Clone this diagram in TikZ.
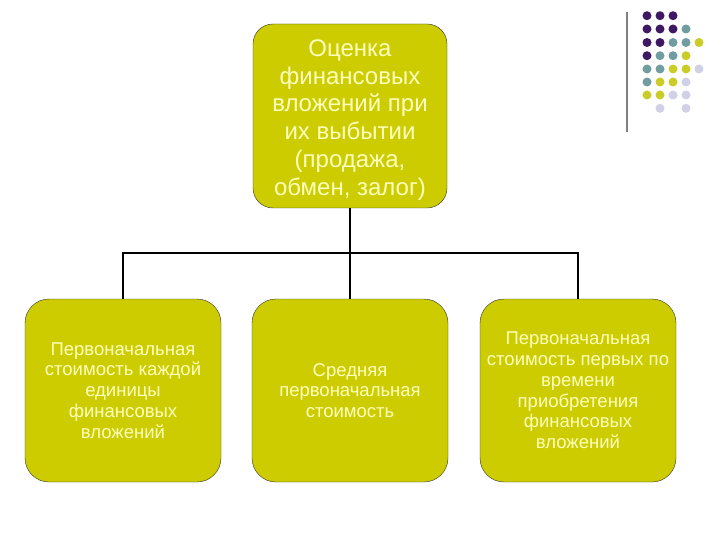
\documentclass[tikz,border=0pt]{standalone}
\usepackage{fontspec}
\setmainfont{Liberation Sans}
\usepackage{tikz}
\usetikzlibrary{calc}
\usepackage{xcolor}

\definecolor{boxfill}{RGB}{204,204,0}
\definecolor{boxtext}{RGB}{255,255,190}
\definecolor{dotP}{RGB}{62,24,98}
\definecolor{dotT}{RGB}{112,158,160}
\definecolor{dotY}{RGB}{204,204,40}
\definecolor{dotL}{RGB}{208,208,230}

\begin{document}
\begin{tikzpicture}[
    x=1pt, y=-1pt,
    topbox/.style={draw=black!80, fill=boxfill, rounded corners=20pt, minimum width=194pt, minimum height=184pt},
    toptext/.style={align=center, text=boxtext, font=\fontsize{24}{27.8}\selectfont},
    subbox/.style={draw=black!80, fill=boxfill, rounded corners=24pt, minimum width=196pt, minimum height=183pt, align=center, text=boxtext, font=\fontsize{18.5}{20.8}\selectfont},
    link/.style={line width=1.6pt, black},
    dot/.style={circle, inner sep=0pt, minimum size=9pt},
]
\useasboundingbox (0,0) rectangle (720,540);

% === Верхний блок ===
\node[topbox] (top) at (350,116) {};
\node[toptext] (topT) at ($(top.center)+(0,4)$) {Оценка\\ финансовых\\ вложений при\\ их выбытии\\ (продажа,\\ обмен, залог)};

% === Нижние блоки ===
\node[subbox] (b1) at (123,390.5) {Первоначальная\\ стоимость каждой\\ единицы\\ финансовых\\ вложений};
\node[subbox] (b2) at (350,390.5) {Средняя\\ первоначальная\\ стоимость};
\node[subbox] (b3) at (578,390.5) {Первоначальная\\ стоимость первых по\\ времени\\ приобретения\\ финансовых\\ вложений};

% === Соединения ===
\coordinate (J) at (350,253);
\draw[link] (top.south) -- (J);
\draw[link] (J) -| (b1.north);
\draw[link] (J) -- (b2.north);
\draw[link] (J) -| (b3.north);

% === Декор: точки ===
\draw[gray, line width=1.2pt] (627,12) -- (627,132);
\foreach \c [count=\i] in {P,P,P} \node[dot, fill=dot\c] at (634+13*\i,15.7) {};
\foreach \c [count=\i] in {P,P,P,T} \node[dot, fill=dot\c] at (634+13*\i,29) {};
\foreach \c [count=\i] in {P,P,T,T,Y} \node[dot, fill=dot\c] at (634+13*\i,42.5) {};
\foreach \c [count=\i] in {P,T,T,Y} \node[dot, fill=dot\c] at (634+13*\i,55.7) {};
\foreach \c [count=\i] in {T,T,Y,Y,L} \node[dot, fill=dot\c] at (634+13*\i,69) {};
\foreach \c [count=\i] in {T,Y,Y,L} \node[dot, fill=dot\c] at (634+13*\i,82) {};
\foreach \c [count=\i] in {Y,Y,L,L} \node[dot, fill=dot\c] at (634+13*\i,95) {};
\node[dot, fill=dotL] at (660,108.3) {};
\node[dot, fill=dotL] at (686,108.3) {};

\end{tikzpicture}
\end{document}
